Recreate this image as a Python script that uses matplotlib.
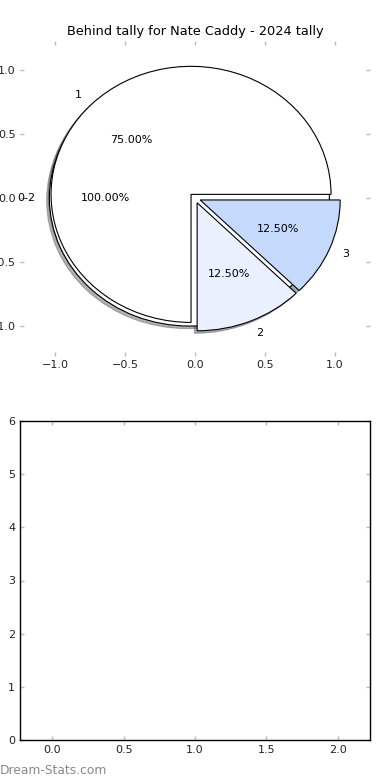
import matplotlib
matplotlib.use("Agg")
import matplotlib.pyplot as plt

title = "Behind tally for Nate Caddy - 2024 tally"
outer_labels = ["0-2"]
outer_values = [100.0]
inner_labels = ["1", "2", "3"]
inner_values = [75.0, 12.5, 12.5]
inner_colors = ["#ffffff", "#eaf0fd", "#c5d9fd"]
bottom_yticks = [0, 1, 2, 3, 4, 5, 6]
bottom_xticks = [0.0, 0.5, 1.0, 1.5, 2.0]

fig = plt.figure(figsize=(3.9, 7.8), dpi=100)

tick_kw = dict(direction="in", length=3, width=1, color="#bbbbbb",
               labelsize=8, labelcolor="#222222",
               top=True, right=True, left=True, bottom=True)

shadow_kw = dict(ox=-0.014, oy=-0.014, shade=0.6)

ax1 = fig.add_axes([20 / 390, (780 - 355.5) / 780, 350 / 390, 315 / 780])
ax1.pie(outer_values, labels=outer_labels, autopct="%.2f%%", startangle=0,
        explode=[0.04], shadow=shadow_kw, colors=["#ffffff"], frame=True,
        wedgeprops=dict(edgecolor="black", linewidth=0.8),
        textprops=dict(fontsize=8))
ax1.pie(inner_values, labels=inner_labels, autopct="%.2f%%", startangle=0,
        explode=[0.04, 0.04, 0.04], shadow=shadow_kw, colors=inner_colors, frame=True,
        wedgeprops=dict(edgecolor="black", linewidth=0.8),
        textprops=dict(fontsize=8))
ax1.set_aspect("auto")
ax1.set_xlim(-1.25, 1.25)
ax1.set_ylim(-1.23, 1.23)
ax1.set_xticks([-1.0, -0.5, 0.0, 0.5, 1.0])
ax1.set_yticks([-1.0, -0.5, 0.0, 0.5, 1.0])
ax1.set_frame_on(False)
ax1.tick_params(**tick_kw)
ax1.tick_params(axis="y", pad=3)
ax1.set_title(title, fontsize=9.3, pad=4)

ax2 = fig.add_axes([20 / 390, 40 / 780, 350 / 390, 319 / 780])
ax2.set_xlim(-0.225, 2.225)
ax2.set_ylim(0, 6)
ax2.set_xticks(bottom_xticks)
ax2.set_yticks(bottom_yticks)
ax2.tick_params(**tick_kw)
for s in ax2.spines.values():
    s.set_color("black")
    s.set_linewidth(1)

fig.text(0.0, 0.004, "Dream-Stats.com", fontsize=8.8, color="#888888",
         fontweight="normal", ha="left", va="bottom")

fig.savefig("out.png", dpi=100)
